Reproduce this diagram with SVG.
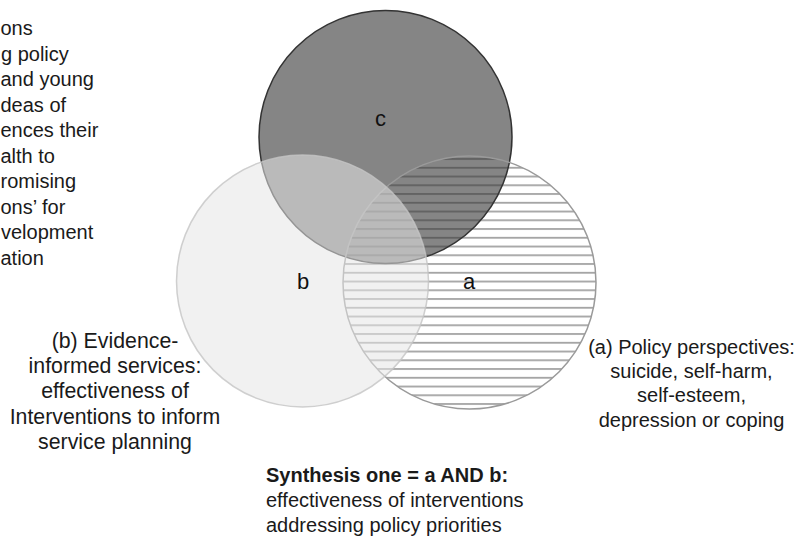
<svg xmlns="http://www.w3.org/2000/svg" width="805" height="538" viewBox="0 0 805 538">
  <style>
    .t { font-family: "Liberation Sans", Arial, sans-serif; font-size: 20px; fill: #1a1a1a; }
    .tb { font-family: "Liberation Sans", Arial, sans-serif; font-size: 21.3px; fill: #1a1a1a; }
    .lbl { font-family: "Liberation Sans", Arial, sans-serif; font-size: 22px; fill: #111; text-anchor: middle; }
    .bold { font-weight: bold; }
  </style>
  <defs>
    <pattern id="hatch" patternUnits="userSpaceOnUse" x="0" y="158.1" width="10" height="8.75">
      <rect x="0" y="0" width="10" height="1.8" fill="#333" fill-opacity="0.45"/>
    </pattern>
  </defs>
  <rect width="805" height="538" fill="#fff"/>

  <g id="node-c">
    <circle cx="385.5" cy="137" r="126.5" fill="#858585" stroke="#333" stroke-width="1.5"/>
  </g>
  <g id="node-a">
    <circle cx="469.5" cy="282.5" r="126.5" fill="url(#hatch)" stroke="#9a9a9a" stroke-width="1.5"/>
  </g>
  <g id="node-b">
    <circle cx="302.5" cy="281" r="126" fill="#e6e6e6" fill-opacity="0.55" stroke="#c4c4c4" stroke-opacity="0.8" stroke-width="1.5"/>
  </g>

  <g id="labels">
    <text class="lbl" x="380.5" y="125.5">c</text>
    <text class="lbl" x="303" y="288.5">b</text>
    <text class="lbl" x="469" y="288.5">a</text>
  </g>

  <g id="text-c" class="t">
    <text x="0.5" y="35">ons</text>
    <text x="1" y="60.5">g policy</text>
    <text x="0.5" y="86">and young</text>
    <text x="0.5" y="111.5">deas of</text>
    <text x="0.5" y="137">ences their</text>
    <text x="0.5" y="162.5">alth to</text>
    <text x="0.5" y="188">romising</text>
    <text x="0.5" y="213.5">ons’ for</text>
    <text x="1" y="239">velopment</text>
    <text x="0.5" y="264.5">ation</text>
  </g>

  <g id="text-b" class="tb" text-anchor="middle">
    <text x="115" y="347.7">(b) Evidence-</text>
    <text x="115" y="373">informed services:</text>
    <text x="115" y="398.3">effectiveness of</text>
    <text x="115" y="423.6">Interventions to inform</text>
    <text x="115" y="448.9">service planning</text>
  </g>

  <g id="text-a" class="t" text-anchor="middle">
    <text x="691.5" y="354">(a) Policy perspectives:</text>
    <text x="691.5" y="378">suicide, self-harm,</text>
    <text x="691.5" y="402">self-esteem,</text>
    <text x="691.5" y="426.5">depression or coping</text>
  </g>

  <g id="synthesis" class="t">
    <text class="bold" x="266" y="482">Synthesis one = a AND b:</text>
    <text x="266" y="507">effectiveness of interventions</text>
    <text x="266" y="532">addressing policy priorities</text>
  </g>
</svg>
